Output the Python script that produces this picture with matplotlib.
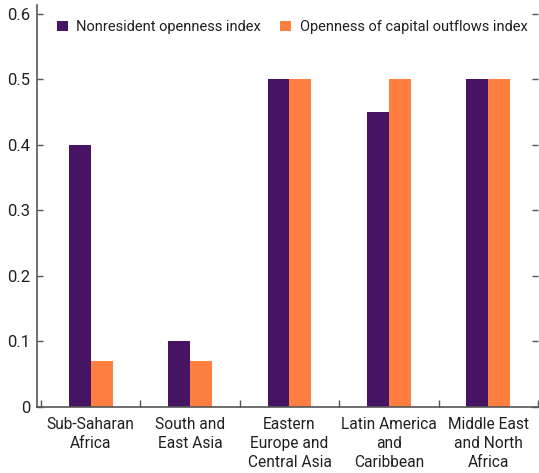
import matplotlib
matplotlib.use("Agg")
import matplotlib.pyplot as plt
import numpy as np

plt.rcParams['font.family'] = ['Roboto', 'DejaVu Sans']

regions = ["Sub-Saharan\nAfrica", "South and\nEast Asia", "Eastern\nEurope and\nCentral Asia",
           "Latin America\nand\nCaribbean", "Middle East\nand North\nAfrica"]
nonresident = [0.40, 0.10, 0.50, 0.45, 0.50]
outflows = [0.07, 0.07, 0.50, 0.50, 0.50]
yticks = [0, 0.1, 0.2, 0.3, 0.4, 0.5, 0.6]
ytick_labels = ["0", "0.1", "0.2", "0.3", "0.4", "0.5", "0.6"]

purple = "#461462"
orange = "#FF7F40"
text_color = "#231F20"
spine_color = "#555555"

fig = plt.figure(figsize=(5.39, 4.73), dpi=100)
ax = fig.add_axes([0.0686, 0.140, 0.9295, 0.849])

x = np.arange(len(regions))
w = 0.22
ax.bar(x - w / 2, nonresident, width=w, color=purple, label="Nonresident openness index")
ax.bar(x + w / 2, outflows, width=w, color=orange, label="Openness of capital outflows index")

ax.set_xlim(-0.54, 4.5)
ax.set_ylim(0, 0.613)

ax.set_yticks(yticks)
ax.set_yticklabels(ytick_labels)
ax.tick_params(axis='y', direction='in', length=4, width=1, color=spine_color,
               labelsize=12, labelcolor=text_color, pad=5, right=True)

ax.set_xticks(x)
ax.set_xticklabels(regions, linespacing=1.35)
ax.tick_params(axis='x', length=0, labelsize=11.2, labelcolor=text_color, pad=7)
ax.set_xticks(np.arange(-0.5, len(regions), 1.0), minor=True)
ax.tick_params(axis='x', which='minor', direction='in', length=5, width=1, color=spine_color)

for s in ['top', 'right']:
    ax.spines[s].set_visible(False)
for s in ['left', 'bottom']:
    ax.spines[s].set_color(spine_color)
    ax.spines[s].set_linewidth(1.2)

leg = ax.legend(loc='upper left', bbox_to_anchor=(0.022, 0.985), ncol=2, frameon=False,
                fontsize=10.5, handlelength=0.75, handleheight=0.75, handletextpad=0.6,
                columnspacing=1.3, borderaxespad=0.2)
for t in leg.get_texts():
    t.set_color(text_color)

fig.savefig("out.png", dpi=100)
